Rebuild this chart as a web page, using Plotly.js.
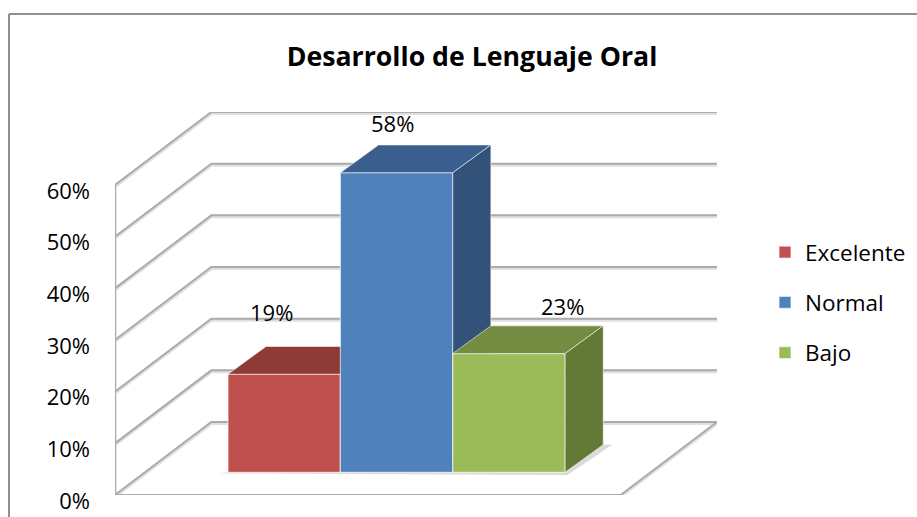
<!DOCTYPE html>
<html><head><meta charset="utf-8">
<script src="https://cdn.plot.ly/plotly-3.0.1.min.js"></script>
<style>html,body{margin:0;padding:0;background:#fff;overflow:hidden}</style>
</head><body><div id="chart" style="width:917px;height:517px"></div>
<script>
// ---- data ----
const titleText = 'Desarrollo de Lenguaje Oral';
const categories = ['Excelente', 'Normal', 'Bajo'];
const values = [19, 58, 23];
const axisTicks = [0, 10, 20, 30, 40, 50, 60];
const frontColors = ['#C0504D', '#4F81BD', '#9BBB59'];
const topColors = ['#8E3A37', '#3A5F8E', '#748C42'];
const sideColors = ['#7A322F', '#33527A', '#647936'];
const labelShiftX = [-13, -4, 54];
const labelShiftY = [62, 50, 48];

// ---- oblique projection, in axis units ----
const depthX = 0.857, depthY = 14.13;       // full floor depth
const sideGap = 0.74, barW = 1;             // gap beside the bars, bar width
const floorW = 4.5;
const nearF = 0.31, farF = 0.69;            // bar depth as fraction of floor depth
const xMax = floorW + depthX, yMax = 60 + depthY;
const GRID = '#ABABAB', GRID_SOFT = '#E0E0E0', FONT = '"Open Sans", sans-serif';

const fill = (xs, ys, color, xa, ya) => ({
  type: 'scatter', mode: 'lines', x: xs.concat(xs[0]), y: ys.concat(ys[0]),
  fill: 'toself', fillcolor: color, line: {color: 'rgba(255,255,255,0.55)', width: 1},
  showlegend: false, hoverinfo: 'skip', xaxis: xa, yaxis: ya, cliponaxis: false
});

// walls and floor
const gx = [], gy = [];
axisTicks.forEach(t => {
  gx.push(0, depthX, xMax, null);
  gy.push(t, t + depthY, t + depthY, null);
});
gx.push(0, floorW, xMax, null, 0, 0);
gy.push(0, 0, depthY, null, 0, 60);
const nx = nearF * depthX, ny = nearF * depthY, fx = nx + 0.339, fy = farF * depthY;
const x0 = sideGap, x1 = sideGap + categories.length * barW;
const traces = [
  {type: 'scatter', mode: 'lines', x: [x0 + nx - 0.08, x1 + nx + 0.02, x1 + fx + 0.08, x1 + fx, x0 + nx],
   y: [ny - 0.2, ny - 0.5, fy, fy, ny], fill: 'toself', fillcolor: '#DADADA', line: {width: 0},
   showlegend: false, hoverinfo: 'skip', cliponaxis: false},
  {type: 'scatter', mode: 'lines', x: gx, y: gy.map(v => v === null ? null : v - 0.25), connectgaps: false,
   line: {color: GRID_SOFT, width: 3.5}, showlegend: false, hoverinfo: 'skip', cliponaxis: false},
  {type: 'scatter', mode: 'lines', x: gx, y: gy, connectgaps: false,
   line: {color: GRID, width: 2}, showlegend: false, hoverinfo: 'skip', cliponaxis: false}
];

// one overlaid subplot per bar so that the nearer-right bar paints over the previous one
const annotations = [];
categories.forEach((name, i) => {
  const k = i + 2, xa = 'x' + k, ya = 'y' + k;
  const l = sideGap + i * barW, r = l + barW, v = values[i];
  traces.push({
    type: 'bar', name: name, x: [l + barW / 2 + nx], y: [v], base: [ny], width: [barW],
    marker: {color: frontColors[i], line: {color: 'rgba(255,255,255,0.6)', width: 1.2}},
    legendgroup: name, xaxis: xa, yaxis: ya, hoverinfo: 'name+y', cliponaxis: false
  });
  traces.push(fill([l + nx, l + fx, r + fx, r + nx], [v + ny, v + fy, v + fy, v + ny], topColors[i], xa, ya));
  traces.push(fill([r + nx, r + fx, r + fx, r + nx], [v + ny, v + fy, fy, ny], sideColors[i], xa, ya));
  annotations.push({
    xref: 'x', yref: 'y', x: l + barW / 2 + nx, y: v + ny, text: v + '%', showarrow: false,
    xshift: labelShiftX[i], yshift: labelShiftY[i], font: {family: FONT, size: 22, color: '#000'}
  });
});

const W = 917, H = 517, M = {l: 115, r: 200, t: 112, b: 22, pad: 0, autoexpand: false};
const px = p => (p - M.l) / (W - M.l - M.r);
const py = p => 1 - (p - M.t) / (H - M.t - M.b);
const borderLine = (a, b, c, d) => ({type: 'line', xref: 'paper', yref: 'paper',
  x0: px(a), y0: py(b), x1: px(c), y1: py(d), line: {color: '#8F8F8F', width: 2}});

const layout = {
  width: W, height: H, margin: M, paper_bgcolor: '#fff', plot_bgcolor: 'rgba(0,0,0,0)',
  barmode: 'overlay', hovermode: 'closest',
  title: {text: '<b>' + titleText + '</b>', x: px(472), xref: 'paper', xanchor: 'center',
          y: 1 - 57 / H, yref: 'container', yanchor: 'middle',
          font: {family: FONT, size: 26.7, color: '#000'}},
  xaxis: {type: 'linear', range: [0, xMax], visible: false, fixedrange: true},
  yaxis: {type: 'linear', range: [0, yMax], tickvals: axisTicks, ticktext: axisTicks.map(t => t + '%'),
          showgrid: false, zeroline: false, showline: false, ticks: '', ticklabelstandoff: 24,
          ticklabelshift: 6, fixedrange: true, tickfont: {family: FONT, size: 22, color: '#000'}},
  showlegend: true,
  legend: {x: px(765), xanchor: 'left', y: py(231), yanchor: 'top', bgcolor: 'rgba(0,0,0,0)',
           traceorder: 'grouped', tracegroupgap: 18, itemclick: false, itemdoubleclick: false,
           font: {family: FONT, size: 22.5, color: '#000'}},
  annotations: annotations,
  shapes: [borderLine(9, 14, 920, 14), borderLine(9, 14, 9, 520)]
};
categories.forEach((_, i) => {
  const k = i + 2;
  layout['xaxis' + k] = {type: 'linear', range: [0, xMax], overlaying: 'x', visible: false, fixedrange: true};
  layout['yaxis' + k] = {type: 'linear', range: [0, yMax], overlaying: 'y', visible: false, fixedrange: true};
});
Plotly.newPlot('chart', traces, layout, {displayModeBar: false, responsive: false});
</script></body></html>
